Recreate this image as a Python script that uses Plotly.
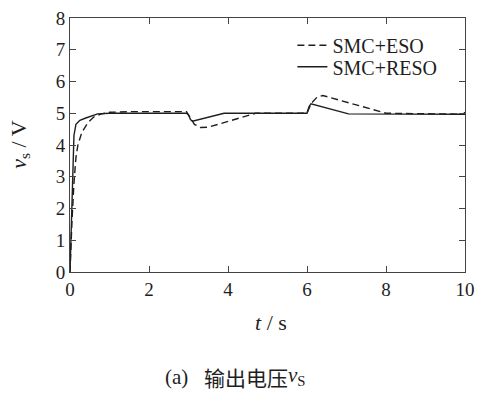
import plotly.graph_objects as go

# SMC+ESO (dashed)
t_eso = [0, 0.02, 0.05, 0.1, 0.15, 0.2, 0.3, 0.45, 0.6, 0.8, 1.0, 1.5, 2.95, 3.05, 3.15, 3.3, 3.5, 4.7, 6.0, 6.1, 6.25, 6.4, 8.0, 10.0]
v_eso = [0, 0.8, 1.6, 2.8, 3.6, 4.0, 4.4, 4.7, 4.88, 4.98, 5.03, 5.05, 5.05, 4.85, 4.65, 4.55, 4.56, 5.0, 5.0, 5.3, 5.5, 5.56, 5.0, 4.97]

# SMC+RESO (solid)
t_reso = [0, 0.03, 0.06, 0.1, 0.15, 0.25, 0.4, 0.7, 1.0, 2.95, 3.0, 3.05, 3.1, 3.9, 6.0, 6.05, 6.1, 7.05, 9.95, 10.0]
v_reso = [0, 1.5, 3.2, 4.3, 4.65, 4.78, 4.85, 4.98, 5.0, 5.0, 4.95, 4.8, 4.75, 5.0, 5.0, 5.2, 5.3, 4.98, 4.97, 5.03]

x_ticks = [0, 2, 4, 6, 8, 10]
y_ticks = [0, 1, 2, 3, 4, 5, 6, 7, 8]

SERIF = "Liberation Serif, Times New Roman, serif"
CJK = "Noto Sans CJK SC"
INK = "#1e1e1e"

fig = go.Figure()
fig.add_trace(go.Scatter(x=t_eso, y=v_eso, mode="lines", name="SMC+ESO", legend="legend",
                         line=dict(color=INK, width=1.4, dash="7px,4px")))
fig.add_trace(go.Scatter(x=t_reso, y=v_reso, mode="lines", name="SMC+RESO", legend="legend2",
                         line=dict(color=INK, width=1.4)))

axis_common = dict(showgrid=False, zeroline=False, showline=True, linecolor="#444",
                   linewidth=1, mirror="allticks", ticks="inside", ticklen=6,
                   tickcolor="#444", automargin=False,
                   tickfont=dict(family=SERIF, size=19, color=INK))

fig.update_xaxes(range=[0, 10], tickvals=x_ticks, **axis_common)
fig.update_yaxes(range=[0, 8], tickvals=y_ticks, **axis_common)

leg_common = dict(xanchor="left", yanchor="middle", bgcolor="rgba(0,0,0,0)",
                  font=dict(family=SERIF, size=20, color=INK), itemwidth=30,
                  borderwidth=0)

fig.update_layout(
    width=479, height=394,
    margin=dict(l=70, r=14, t=18, b=122, autoexpand=False),
    plot_bgcolor="white", paper_bgcolor="white",
    showlegend=True,
    legend=dict(x=0.563, y=0.893, **leg_common),
    legend2=dict(x=0.563, y=0.808, **leg_common),
    annotations=[
        dict(text="<i>v</i><sub>s</sub> / V", xref="paper", yref="paper", x=-0.127, y=0.5,
             textangle=-90, showarrow=False, font=dict(family=SERIF, size=22, color=INK),
             xanchor="center", yanchor="middle"),
        dict(text="<i>t</i> / s", xref="paper", yref="paper", x=0.51, y=-0.2,
             showarrow=False, font=dict(family=SERIF, size=22, color=INK),
             xanchor="center", yanchor="middle"),
        dict(text="(a)", xref="paper", yref="paper", x=0.236, y=-0.415,
             showarrow=False, font=dict(family=SERIF, size=21, color=INK),
             xanchor="left", yanchor="middle"),
        dict(text="输出电压", xref="paper", yref="paper", x=0.334, y=-0.415,
             showarrow=False, font=dict(family=CJK, size=21, color=INK),
             xanchor="left", yanchor="middle"),
        dict(text="<i>v</i><sub>S</sub>", xref="paper", yref="paper", x=0.548, y=-0.41,
             showarrow=False, font=dict(family=SERIF, size=21, color=INK),
             xanchor="left", yanchor="middle"),
    ],
)

fig.write_html("out.html")
